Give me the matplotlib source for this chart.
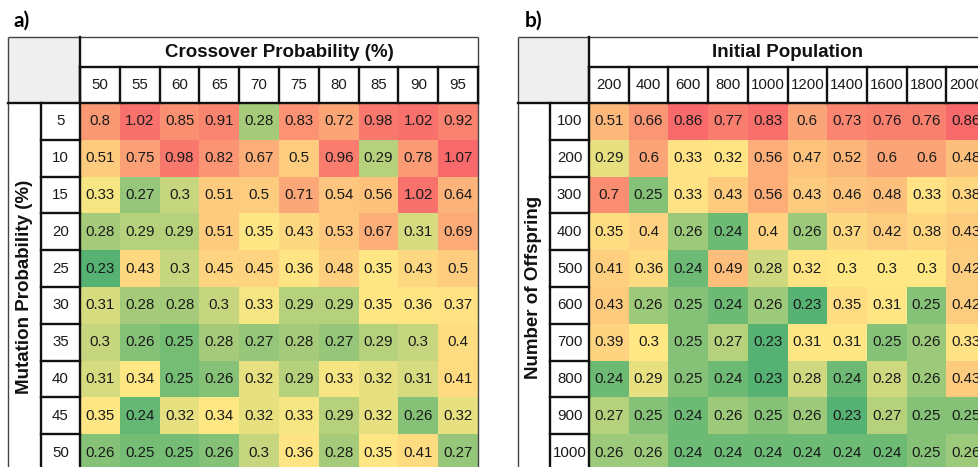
import numpy as np
import matplotlib
matplotlib.use('Agg')
import matplotlib.pyplot as plt
from matplotlib.colors import LinearSegmentedColormap, TwoSlopeNorm
from matplotlib.patches import Rectangle

plt.rcParams['font.family'] = ['Liberation Sans', 'DejaVu Sans']

# a) mutation probability (rows) vs crossover probability (columns)
crossover = ['50', '55', '60', '65', '70', '75', '80', '85', '90', '95']
mutation = ['5', '10', '15', '20', '25', '30', '35', '40', '45', '50']
values_a = [
    [0.8, 1.02, 0.85, 0.91, 0.28, 0.83, 0.72, 0.98, 1.02, 0.92],
    [0.51, 0.75, 0.98, 0.82, 0.67, 0.5, 0.96, 0.29, 0.78, 1.07],
    [0.33, 0.27, 0.3, 0.51, 0.5, 0.71, 0.54, 0.56, 1.02, 0.64],
    [0.28, 0.29, 0.29, 0.51, 0.35, 0.43, 0.53, 0.67, 0.31, 0.69],
    [0.23, 0.43, 0.3, 0.45, 0.45, 0.36, 0.48, 0.35, 0.43, 0.5],
    [0.31, 0.28, 0.28, 0.3, 0.33, 0.29, 0.29, 0.35, 0.36, 0.37],
    [0.3, 0.26, 0.25, 0.28, 0.27, 0.28, 0.27, 0.29, 0.3, 0.4],
    [0.31, 0.34, 0.25, 0.26, 0.32, 0.29, 0.33, 0.32, 0.31, 0.41],
    [0.35, 0.24, 0.32, 0.34, 0.32, 0.33, 0.29, 0.32, 0.26, 0.32],
    [0.26, 0.25, 0.25, 0.26, 0.3, 0.36, 0.28, 0.35, 0.41, 0.27],
]

# b) number of offspring (rows) vs initial population (columns)
population = ['200', '400', '600', '800', '1000', '1200', '1400', '1600', '1800', '2000']
offspring = ['100', '200', '300', '400', '500', '600', '700', '800', '900', '1000']
values_b = [
    [0.51, 0.66, 0.86, 0.77, 0.83, 0.6, 0.73, 0.76, 0.76, 0.86],
    [0.29, 0.6, 0.33, 0.32, 0.56, 0.47, 0.52, 0.6, 0.6, 0.48],
    [0.7, 0.25, 0.33, 0.43, 0.56, 0.43, 0.46, 0.48, 0.33, 0.38],
    [0.35, 0.4, 0.26, 0.24, 0.4, 0.26, 0.37, 0.42, 0.38, 0.43],
    [0.41, 0.36, 0.24, 0.49, 0.28, 0.32, 0.3, 0.3, 0.3, 0.42],
    [0.43, 0.26, 0.25, 0.24, 0.26, 0.23, 0.35, 0.31, 0.25, 0.42],
    [0.39, 0.3, 0.25, 0.27, 0.23, 0.31, 0.31, 0.25, 0.26, 0.33],
    [0.24, 0.29, 0.25, 0.24, 0.23, 0.28, 0.24, 0.28, 0.26, 0.43],
    [0.27, 0.25, 0.24, 0.26, 0.25, 0.26, 0.23, 0.27, 0.25, 0.25],
    [0.26, 0.26, 0.24, 0.24, 0.24, 0.24, 0.24, 0.24, 0.25, 0.26],
]

# green - yellow - red colour scale, centred on the median
cmap = LinearSegmentedColormap.from_list('gyr', ['#55B272', '#FFE884', '#F8696B'])

W, H = 979, 467
LEFT, SPLIT, HEAD_TOP, HEAD_MID = -1.8, -0.98, -1.79, -0.98
CELL_FS = 10.8


def draw_table(ax, values, col_labels, row_labels, title, ylabel):
    values = np.array(values)
    n_rows, n_cols = values.shape
    norm = TwoSlopeNorm(vmin=values.min(), vcenter=np.median(values), vmax=values.max())
    ax.pcolormesh(np.arange(n_cols + 1), np.arange(n_rows + 1), values,
                  cmap=cmap, norm=norm)
    ax.set_xlim(0, n_cols)
    ax.set_ylim(n_rows, 0)
    ax.axis('off')

    for i in range(n_rows):
        for j in range(n_cols):
            ax.text(j + 0.5, i + 0.5, f'{values[i, j]:g}', ha='center', va='center',
                    fontsize=CELL_FS, color='#1a1a1a', clip_on=False)

    # grey corner cell
    ax.add_patch(Rectangle((LEFT, HEAD_TOP), -LEFT, -HEAD_TOP, fc='#efefef',
                           ec='none', clip_on=False, zorder=0))

    ax.text(n_cols / 2, (HEAD_TOP + HEAD_MID) / 2, title, ha='center', va='center',
            fontsize=13.5, fontweight='bold', color='#111', clip_on=False)
    for j, lab in enumerate(col_labels):
        ax.text(j + 0.5, HEAD_MID / 2, lab, ha='center', va='center',
                fontsize=CELL_FS, color='#1a1a1a', clip_on=False)
    for i, lab in enumerate(row_labels):
        ax.text(SPLIT / 2, i + 0.5, lab, ha='center', va='center',
                fontsize=CELL_FS, color='#1a1a1a', clip_on=False)
    ax.text((LEFT + SPLIT) / 2, n_rows / 2, ylabel, ha='center', va='center',
            rotation=90, fontsize=13.5, fontweight='bold', color='#111', clip_on=False)

    thin = dict(color='#444', lw=1.0, clip_on=False, solid_capstyle='butt')
    thick = dict(color='#111', lw=1.7, clip_on=False, solid_capstyle='projecting')
    # outer frame
    ax.plot([LEFT, n_cols], [HEAD_TOP, HEAD_TOP], **thin)
    ax.plot([LEFT, LEFT], [HEAD_TOP, n_rows + 1], **thin)
    ax.plot([n_cols, n_cols], [HEAD_TOP, n_rows + 1], **thin)
    # header grid
    ax.plot([0, n_cols], [HEAD_MID, HEAD_MID], **thick)
    for j in range(n_cols + 1):
        ax.plot([j, j], [HEAD_MID, 0], **thick)
    ax.plot([0, 0], [HEAD_TOP, n_rows + 1], **thick)
    ax.plot([LEFT, n_cols], [0, 0], **thick)
    # row label grid
    ax.plot([SPLIT, SPLIT], [0, n_rows + 1], **thick)
    for i in range(1, n_rows + 1):
        ax.plot([SPLIT, 0], [i, i], **thick)


fig = plt.figure(figsize=(W / 100, H / 100), dpi=100)

ax_a = fig.add_axes([80 / W, (H - 471) / H, 398 / W, 368 / H])
draw_table(ax_a, values_a, crossover, mutation,
           'Crossover Probability (%)', 'Mutation Probability (%)')

ax_b = fig.add_axes([589 / W, (H - 471) / H, 397 / W, 368 / H])
draw_table(ax_b, values_b, population, offspring,
           'Initial Population', 'Number of Offspring')

fig.text(14 / W, 1 - 27 / H, 'a)', fontsize=15, fontweight='bold',
         family=['Lato', 'DejaVu Sans'], va='baseline')
fig.text(525 / W, 1 - 27 / H, 'b)', fontsize=15, fontweight='bold',
         family=['Lato', 'DejaVu Sans'], va='baseline')

fig.savefig('out.png', dpi=100, facecolor='white')
